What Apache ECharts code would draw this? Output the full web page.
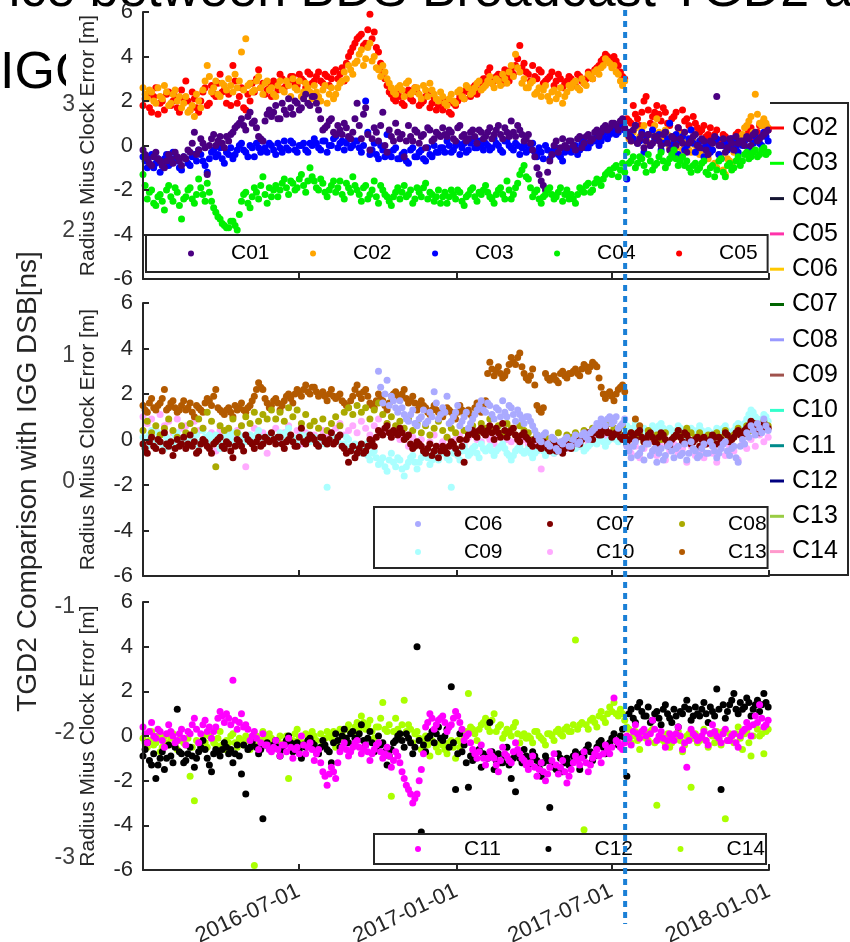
<!DOCTYPE html>
<html><head><meta charset="utf-8">
<script src="https://cdn.jsdelivr.net/npm/echarts@6/dist/echarts.min.js"></script>
<style>html,body{margin:0;padding:0;background:#fff}#c{width:850px;height:942px}</style>
</head><body><div id="c"></div>
<script>
// ---------- data ----------
const startDate = '2016-01-01';   // date of the first sample of every series
const stepDays = 5;               // spacing between samples of one array
const midOffsetDays = 2.5;        // the "...m" arrays are read half a step later
const xMin = '2016-01-01', xMax = '2018-01-01';
const xTickLabels = ['2016-07-01','2017-01-01','2017-07-01','2018-01-01'];
const markerDate = '2017-07-17';
const titleLine1 = 'Difference between BDS Broadcast TGD2 and';
const titleLine2 = 'IGG DSB';

// background (TGD2) figure: legend names and colours
const bgNames = ['C02','C03','C04','C05','C06','C07','C08','C09','C10','C11','C12','C13','C14'];
const bgColors = ['#FF0000','#00FF00','#141432','#FF33AA','#FFC800','#006400','#9999FF','#A0524D','#33FFCC','#008B8B','#000080','#99CC44','#FF99CC'];

// subplot 1
const C01 = [-0.2,-0.6,-0.9,-0.3,-0.7,-1.0,-0.4,-0.8,-0.5,-0.9, -0.6,-0.3,0.6,-0.2,0.1,-1.3,0.3,0.0,0.4,-0.1, 0.2,0.6,0.9,1.2,0.7,1.5,1.1,0.4,0.2,1.4, 1.3,1.8,1.2,1.6,2.1,1.4,1.9,1.7,2.3,1.8, 2.2,1.6,0.7,0.9,1.2,0.5,0.7,1.0,0.4,0.6, 1.9,0.3,1.7,-0.2,0.8,0.2,1.5,-0.3,0.4,1.0, 0.3,-0.5,0.9,0.2,0.6,0.4,-0.1,0.7,0.3,0.5, 0.8,0.4,0.6,0.2,0.9,0.5,0.3,0.7,0.1,0.6, 0.4,0.8,0.5,0.9,0.3,0.6,1.1,0.4,0.7,0.2, 0.5,-0.2,-1.0,-1.6,-2.0,-0.7,0.0,-0.3,0.3,-0.1, 0.2,-0.2,0.4,0.1,0.5,0.3,0.7,0.6,0.9,0.8, 1.0,0.7,1.2,0.6,0.2,0.9,0.3,-0.1,0.5,0.1, 0.4,0.0,0.6,-0.2,0.3,0.8,0.1,-0.3,0.2,0.5, -0.1,0.2,-0.4,0.1,2.2,0.0,-0.3,0.3,-0.2,0.1, 0.2,0.4,0.0,0.6,0.3,0.5,0.7];
const C01m = [-0.4,-0.8,-0.5,-0.6,-0.9,-0.7,-0.6,-0.3,-0.7,-0.5, -0.2,0.1,-0.4,0.3,-0.1,0.0,0.5,0.2,0.1,0.4, 0.5,0.8,1.0,0.9,1.3,1.0,0.8,0.3,1.1,1.6, 1.5,1.2,1.9,1.4,1.7,2.0,1.6,2.1,1.9,2.2, 1.9,1.2,0.8,1.1,0.6,0.9,0.5,0.8,0.3,1.2, 0.9,1.4,0.5,0.3,0.6,0.9,0.0,0.7,0.2,0.6, 0.5,0.2,0.4,0.7,0.1,0.5,0.8,0.2,0.6,0.4, 0.5,0.7,0.3,0.8,0.4,0.2,0.6,0.4,0.7,0.3, 0.6,0.3,0.7,0.5,0.8,0.4,0.6,0.9,0.5,0.3, 0.1,-0.5,-1.3,-1.8,-1.2,-0.4,0.2,-0.1,0.0,0.2, 0.0,0.3,-0.1,0.4,0.2,0.6,0.4,0.8,0.7,1.0, 0.9,1.1,0.8,0.4,0.7,0.1,0.5,0.2,0.0,0.4, 0.2,0.5,0.1,0.4,0.0,0.3,0.6,0.1,0.4,0.0, 0.3,-0.2,0.2,0.4,0.0,0.3,-0.1,0.1,0.4,0.2, 0.0,0.3,0.5,0.2,0.4,0.6];
const C02 = [2.6,2.1,2.4,1.9,2.2,2.7,1.8,2.3,2.0,1.7, 2.2,1.6,1.3,2.0,2.5,3.6,2.4,2.9,2.2,2.7, 3.0,2.4,2.6,4.2,4.8,2.8,2.5,3.1,2.3,2.9, 2.6,2.2,2.9,2.4,2.7,3.0,2.5,2.2,2.8,2.4, 2.7,2.2,2.5,1.9,2.6,2.3,2.8,3.3,3.6,3.2, 3.8,4.3,3.9,4.6,4.0,3.4,3.6,3.0,2.6,2.3, 2.7,2.2,2.9,2.4,2.6,2.1,2.5,2.8,2.3,2.0, 2.2,1.8,2.3,1.9,2.5,2.1,2.6,2.4,2.8,2.5, 2.7,3.1,2.6,2.9,3.2,2.8,3.6,4.1,3.3,3.0, 2.6,2.9,2.4,2.2,2.7,2.0,2.5,2.3,1.9,2.4, 2.6,2.9,2.5,2.8,3.2,3.0,3.4,3.5,3.9,3.7, 3.6,3.2,2.7,0.5,0.2,0.8,0.4,0.9,0.1,0.6, 1.2,0.3,0.7,-0.1,0.4,0.2,-0.2,0.3,-0.3,0.0, -0.4,0.1,-0.6,-0.2,-1.0,-0.5,-1.3,-0.7,-0.3,0.0, 0.5,0.9,1.3,2.3,1.0,1.2,0.8];
const C02m = [2.3,2.5,2.0,2.6,2.1,2.4,1.9,2.5,2.2,1.9, 1.5,1.8,2.3,1.7,2.9,3.1,2.6,2.3,2.8,2.5, 2.7,3.2,2.9,2.5,2.7,2.4,2.9,2.6,2.8,2.5, 2.3,2.7,2.5,2.9,2.2,2.6,2.9,2.4,2.6,2.1, 2.4,2.0,2.7,2.3,2.1,2.6,2.9,3.0,3.4,3.7, 4.1,3.6,4.4,3.8,3.5,3.1,3.3,2.8,2.4,2.6, 2.5,2.8,2.3,2.6,2.3,2.7,2.2,2.5,2.1,2.4, 1.9,2.1,2.0,2.4,2.2,2.7,2.3,2.6,2.9,2.6, 2.9,2.8,3.0,2.7,3.0,3.3,3.1,3.5,2.8,2.6, 2.8,2.3,2.6,2.5,2.2,2.4,2.1,2.6,2.2,2.7, 2.8,2.6,3.0,2.7,3.1,3.3,3.2,3.6,3.8,3.5, 3.3,2.9,2.9,0.3,0.6,0.1,0.7,0.3,0.5,0.9, 0.6,0.1,0.5,0.2,-0.1,0.5,0.0,-0.2,0.2,-0.1, -0.2,-0.4,-0.1,-0.8,-0.4,-1.1,-0.6,-0.9,0.2,0.3, 0.8,1.1,0.6,1.4,0.9,1.0];
const C03 = [-0.5,-1.0,-0.4,-0.8,-1.2,-0.6,-0.9,-0.3,-0.7,-1.1, -0.6,-0.9,-0.4,-0.2,-0.7,-1.2,-0.3,-0.5,-0.1,-0.8, -0.4,-0.6,-0.2,0.1,-0.3,0.0,-0.5,-0.1,0.2,-0.3, 0.0,-0.4,-0.1,0.2,-0.2,0.1,-0.3,0.0,-0.2,0.1, 0.3,-0.1,0.2,-0.3,0.0,0.4,0.1,-0.2,0.3,0.0, 0.2,-0.3,2.0,-0.4,0.1,-0.6,-0.2,0.5,-0.5,-0.1, -0.6,-0.3,-0.8,-0.1,-0.5,-0.2,-0.7,-0.4,0.0,-0.3, -0.1,0.2,-0.3,0.0,-0.4,0.1,-0.2,0.3,-0.1,0.0, 0.1,-0.2,0.3,0.0,-0.3,0.2,-0.1,0.1,-0.4,0.0, -0.2,0.1,-0.5,-0.3,0.0,-0.6,-0.2,-0.4,-0.7,-0.1, -0.3,0.0,-0.2,0.2,-0.1,0.3,0.4,0.2,0.6,0.5, 0.8,0.6,1.0,-1.5,0.4,0.9,0.2,-0.3,0.5,0.7, 0.3,-0.2,0.6,1.0,0.1,-0.4,0.4,0.0,0.7,-0.3, 0.2,-0.5,0.0,-0.2,0.3,-0.6,0.1,-0.1,0.2,-0.3, 0.0,0.3,-0.2,0.4,0.1,0.6,0.2];
const C03m = [-0.7,-0.5,-1.0,-0.6,-0.9,-0.4,-0.8,-0.6,-1.0,-0.5, -0.8,-0.5,-0.7,-0.4,-0.9,-0.6,-0.2,-0.4,-0.6,-0.3, -0.1,-0.4,0.0,-0.2,-0.5,-0.1,0.1,-0.3,-0.1,0.1, -0.2,0.1,-0.3,-0.1,0.2,-0.2,0.0,0.1,-0.3,0.0, 0.1,-0.2,0.2,0.0,0.3,-0.1,0.2,0.1,-0.1,0.2, -0.1,0.0,0.6,-0.2,-0.4,0.0,-0.5,-0.3,-0.2,-0.6, -0.4,-0.7,-0.2,-0.5,-0.3,-0.6,-0.1,-0.5,-0.3,-0.1, -0.3,0.0,-0.2,0.1,-0.1,-0.3,0.1,-0.1,0.2,-0.2, 0.0,-0.1,0.1,-0.2,0.2,0.0,-0.2,0.0,-0.1,-0.3, 0.0,-0.3,-0.1,-0.6,-0.2,-0.4,-0.1,-0.5,-0.3,-0.2, -0.1,-0.4,0.1,-0.1,0.1,0.2,0.0,0.4,0.3,0.7, 0.5,0.9,0.7,0.6,0.3,0.1,0.6,0.4,0.0,0.3, 0.5,0.1,0.3,-0.1,0.5,0.2,-0.2,0.3,0.1,0.0, -0.1,0.1,-0.3,0.2,-0.4,0.0,-0.2,0.3,-0.1,0.1, 0.2,-0.1,0.1,0.3,0.0,0.4];
const C04 = [-1.3,-2.4,-2.0,-2.7,-2.2,-2.9,-1.8,-2.5,-2.1,-3.3, -2.3,-1.9,-2.6,-1.5,-2.2,-1.7,-2.5,-3.0,-3.3,-3.6, -3.7,-3.4,-3.8,-2.5,-2.1,-2.8,-1.9,-2.4,-1.4,-2.6, -2.3,-1.8,-2.0,-1.5,-2.2,-1.7,-1.9,-1.3,-2.1,-1.0, -1.6,-2.0,-1.7,-2.3,-1.8,-2.1,-1.6,-2.4,-1.9,-1.4, -2.0,-2.5,-1.8,-2.2,-1.6,-2.6,-2.0,-2.3,-2.7,-2.1, -2.4,-1.8,-2.2,-2.6,-1.9,-2.3,-1.7,-2.1,-2.5,-2.0, -2.3,-2.6,-2.0,-2.4,-2.1,-2.7,-2.2,-1.9,-2.5,-2.2, -1.8,-2.3,-2.6,-2.0,-2.2,-1.6,-2.4,-1.9,-1.3,-0.9, -1.5,-2.3,-2.0,-2.6,-2.2,-1.9,-2.4,-2.1,-2.5,-2.0, -2.2,-2.6,-1.9,-2.1,-1.7,-2.0,-1.5,-1.8,-1.3,-1.1, -1.0,-1.4,-0.8,-0.3,-0.7,-1.0,-0.5,-0.9,-0.4,-1.1, -0.8,-0.3,-1.0,-0.6,-0.2,-0.9,-0.5,-0.7,-1.2,-0.8, -1.0,-0.7,-1.3,-0.9,-1.1,-0.6,-1.4,-0.8,-1.0,-0.5, -0.7,-0.3,-0.5,-0.2,-0.4,-0.1,-0.3];
const C04m = [-1.8,-2.1,-2.6,-2.3,-2.5,-2.0,-2.3,-1.9,-2.7,-2.4, -2.0,-2.4,-2.2,-1.9,-2.5,-2.1,-2.8,-3.2,-3.5,-3.7, -3.4,-3.6,-3.1,-2.2,-2.6,-2.3,-2.1,-1.8,-2.2,-1.9, -2.0,-2.3,-1.7,-1.9,-1.6,-2.0,-1.5,-1.8,-1.6,-1.4, -1.9,-1.5,-2.1,-2.0,-1.6,-1.9,-2.2,-1.7,-2.1,-1.8, -2.2,-1.9,-2.4,-2.0,-2.3,-1.8,-2.2,-2.5,-2.3,-1.9, -2.1,-2.3,-2.0,-2.4,-2.1,-1.9,-2.4,-2.2,-2.3,-2.6, -2.1,-2.3,-2.2,-2.0,-2.5,-2.3,-2.0,-2.3,-2.1,-2.0, -2.1,-2.4,-2.2,-1.9,-2.4,-2.0,-2.2,-1.7,-1.1,-1.4, -1.9,-2.1,-2.4,-2.3,-2.0,-2.2,-2.3,-1.9,-2.2,-2.4, -2.4,-2.2,-2.0,-1.8,-2.1,-1.7,-1.6,-1.5,-1.2,-1.3, -0.9,-1.1,-1.2,-0.8,-0.5,-0.8,-0.6,-1.2,-0.7,-0.9, -0.5,-0.7,-0.8,-0.4,-0.6,-0.7,-0.9,-1.0,-0.9,-1.1, -0.8,-1.2,-1.0,-1.4,-0.7,-1.2,-0.9,-1.1,-0.7,-0.9, -0.4,-0.6,-0.3,-0.5,-0.2,-0.4];
const C05 = [1.8,2.3,1.5,2.6,1.9,1.6,2.4,2.0,1.7,2.5, 2.9,1.6,2.1,1.5,2.4,1.8,2.7,2.2,3.2,2.5, 2.3,3.6,1.9,2.6,1.6,2.0,2.4,3.4,2.8,2.5, 2.2,2.8,3.2,2.6,2.9,3.1,2.7,3.0,2.6,3.2, 2.9,3.3,2.8,3.1,3.0,3.4,3.2,2.9,4.0,4.4, 4.8,5.0,4.6,5.9,5.1,4.2,3.3,2.7,2.3,2.0, 2.2,1.8,2.5,2.0,2.4,1.9,2.2,1.7,2.1,1.8, 1.6,2.0,1.4,1.8,2.2,2.1,2.4,2.6,2.3,2.8, 3.0,3.5,2.9,3.2,2.8,3.1,3.4,3.6,4.5,3.7, 3.2,3.6,3.0,3.3,2.9,3.1,2.7,3.2,2.6,2.9, 3.0,2.7,3.1,2.8,3.3,3.0,3.5,3.8,4.1,3.9, 4.0,3.6,3.1,1.2,1.0,1.4,0.9,2.0,1.6,1.3, 1.8,1.1,1.5,0.9,1.3,0.8,1.6,1.2,0.7,1.0, 0.6,0.9,0.5,0.3,0.7,0.2,0.4,0.0,0.3,0.6, 0.2,0.5,0.8,0.4,0.9,1.1,0.7];
const C05m = [2.1,1.7,2.2,1.4,2.0,2.3,1.8,2.2,1.5,2.1, 2.0,2.4,1.7,2.0,2.6,1.9,2.3,2.8,2.4,1.9, 1.8,2.9,2.2,1.7,2.3,2.8,3.0,2.6,2.3,2.7, 2.9,2.5,3.0,2.7,3.1,2.8,3.2,2.9,3.3,2.8, 3.1,2.9,3.2,2.7,3.3,3.0,3.5,3.7,4.2,4.6, 4.9,4.5,5.2,4.8,4.4,3.7,3.0,2.4,2.1,2.5, 1.9,2.3,2.1,2.6,1.8,2.0,2.4,1.9,1.6,2.0, 1.8,1.5,1.9,2.0,2.3,2.5,2.2,2.7,2.5,3.0, 3.3,2.8,3.1,3.0,3.4,2.9,3.2,3.9,3.5,3.3, 2.9,3.1,3.4,2.8,3.0,3.3,2.9,3.0,2.8,3.1, 2.8,3.2,2.9,3.0,3.2,3.4,3.6,3.9,4.0,3.7, 3.8,3.3,3.0,1.1,1.8,1.2,1.5,2.2,1.0,1.5, 1.4,1.7,1.0,1.2,1.5,0.6,1.1,0.9,1.3,0.8, 0.7,0.4,0.8,0.5,0.1,0.5,0.2,0.3,0.5,0.1, 0.4,0.7,0.3,0.6,1.0,0.9];

// subplot 2
const C06 = [null,null,null,null,null,null,null,null,null,null, null,null,null,null,null,null,null,null,null,null, null,null,null,null,null,null,null,null,null,null, null,null,null,null,null,null,null,null,null,null, null,null,null,null,null,null,null,null,null,null, null,null,null,null,null,3.0,1.6,2.6,1.9,1.4, 1.7,1.1,0.8,1.3,0.6,1.0,0.7,1.2,2.1,0.9, 1.4,1.9,0.8,1.2,0.6,1.0,0.5,0.9,1.3,1.7, 1.2,1.5,0.9,1.3,1.7,1.0,1.4,0.8,1.1,0.7, 1.0,0.6,0.2,-0.1,0.3,-0.3,0.0,-0.5,-0.2,0.1, -0.3,0.2,-0.1,0.3,0.0,0.4,0.7,0.9,0.6,1.0, 0.8,0.5,0.7,-0.3,-0.8,-0.1,-0.6,-0.9,-0.2,-0.5, -1.0,-0.4,-0.7,-0.2,-0.8,-0.3,-0.6,-0.9,-0.1,-0.5, -0.7,-0.2,-0.6,-0.3,-0.8,-0.4,-0.1,-0.7,-0.3,-1.0, 0.0,0.3,0.6,0.2,0.5,0.9,0.4];
const C06m = [null,null,null,null,null,null,null,null,null,null, null,null,null,null,null,null,null,null,null,null, null,null,null,null,null,null,null,null,null,null, null,null,null,null,null,null,null,null,null,null, null,null,null,null,null,null,null,null,null,null, null,null,null,null,null,2.3,2.0,1.5,1.7,1.2, 1.4,0.9,1.1,0.7,0.9,1.3,0.8,1.0,1.6,1.1, 1.2,0.7,1.0,1.5,0.8,1.2,0.7,1.1,1.5,1.3, 1.6,1.1,1.4,1.0,1.2,1.5,1.1,1.3,0.9,1.0, 0.8,0.4,0.0,0.2,-0.2,0.1,-0.4,-0.1,0.0,-0.3, 0.0,-0.2,0.2,0.1,0.3,0.5,0.6,0.8,0.9,0.7, 1.0,0.6,0.9,-0.5,-0.3,-0.7,-0.4,-0.2,-0.7,-0.4, -0.6,-0.9,-0.3,-0.5,-0.4,-0.7,-0.2,-0.6,-0.4,-0.8, -0.4,-0.6,-0.1,-0.5,-0.6,-0.2,-0.5,-0.4,-0.8,-0.3, -0.2,0.1,0.4,0.7,0.3,0.6];
const C07 = [-0.2,-0.6,0.1,-0.4,-0.1,0.3,-0.3,-0.7,0.0,-0.2, -0.4,0.2,-0.1,-0.5,0.0,-0.3,-0.6,-0.1,0.1,-0.4, -0.2,-0.8,0.0,-0.3,0.2,-0.1,-0.4,0.1,-0.2,0.0, 0.3,-0.2,0.1,-0.4,0.0,-0.1,-0.3,0.5,-0.2,0.2, 0.0,-0.3,0.1,-0.2,0.3,-0.1,0.2,-0.4,-1.0,-0.3, -0.6,-0.2,-0.5,0.0,-0.3,0.4,0.2,0.6,0.1,0.3, 0.5,0.0,0.2,-0.4,-0.1,-0.3,-0.6,-0.2,-0.5,-0.8, -0.3,-0.6,-0.1,-0.4,0.0,-1.0,0.2,0.4,0.1,0.5, 0.2,0.6,0.0,0.3,0.7,0.1,0.4,0.2,-0.1,0.3, 0.0,-0.3,0.1,-0.4,-0.2,-0.5,-0.1,-0.3,-0.6,-0.2, -0.4,0.0,-0.2,0.1,0.3,0.0,0.4,0.2,0.5,0.3, 0.2,0.4,0.0,-0.2,0.3,0.0,0.4,-0.1,0.2,0.1, -0.2,0.3,0.0,-0.3,0.1,0.4,-0.1,0.2,-0.2,0.0, -0.3,0.1,-0.1,0.2,-0.2,0.0,0.3,-0.1,0.1,0.4, 0.2,0.5,0.8,0.6,0.3,0.7,0.5];
const C07m = [-0.4,-0.1,-0.3,0.0,-0.5,-0.2,-0.1,-0.4,-0.3,0.1, -0.2,-0.3,-0.6,-0.2,-0.1,-0.4,-0.2,0.0,-0.3,-0.1, -0.5,-0.3,-0.1,-0.5,0.0,-0.2,-0.1,-0.3,0.1,-0.1, 0.0,0.1,-0.2,-0.1,0.2,-0.3,0.1,-0.1,0.0,0.1, -0.2,0.1,-0.1,0.0,-0.2,0.1,-0.3,-0.6,-0.5,-0.8, -0.4,-0.6,-0.3,-0.1,0.1,0.3,0.5,0.3,0.4,0.2, 0.3,0.1,-0.2,-0.3,-0.2,-0.5,-0.4,-0.7,-0.3,-0.5, -0.5,-0.3,-0.2,-0.6,-0.3,0.0,0.3,0.2,0.4,0.3, 0.4,0.3,0.5,0.1,0.4,0.3,0.5,0.0,0.2,0.1, -0.2,0.0,-0.3,-0.1,-0.4,-0.3,-0.5,-0.2,-0.4,-0.3, -0.2,-0.1,0.0,0.2,0.1,0.3,0.2,0.4,0.3,0.1, 0.3,0.1,0.2,0.0,0.2,0.3,0.1,0.0,0.3,-0.1, 0.1,0.2,-0.2,0.0,0.2,0.1,0.3,0.0,-0.1,0.1, 0.0,-0.2,0.0,0.1,0.1,-0.1,0.2,0.0,0.3,0.2, 0.4,0.6,0.7,0.4,0.5,0.6];
const C08 = [0.4,0.8,0.3,0.6,0.2,0.5,0.9,0.4,0.1,0.6, 0.3,0.7,0.4,0.9,0.5,1.2,0.8,-1.2,0.6,0.4, 0.5,0.9,0.3,0.6,1.0,0.7,1.2,0.8,1.1,0.9, 1.3,0.9,1.2,0.8,1.4,1.0,1.3,0.7,1.1,0.6, 0.8,0.5,0.9,0.4,0.7,1.0,0.6,1.2,1.4,1.1, 1.5,1.2,1.4,0.9,1.3,1.6,1.1,0.7,1.0,0.6, 0.8,0.5,0.9,0.4,0.7,0.3,0.6,0.2,0.5,0.8, 0.4,0.1,0.5,0.3,0.0,0.4,0.2,0.6,0.3,0.7, 0.5,0.9,0.4,0.6,0.3,0.7,0.5,0.2,0.6,0.4, 0.3,0.0,0.2,-0.1,0.1,-0.2,0.0,0.3,-0.1,0.2, 0.1,0.3,0.0,0.4,0.2,0.5,0.3,0.6,0.4,0.7, 0.5,0.3,0.6,0.1,0.3,0.0,0.2,-0.1,0.4,0.1, 0.2,0.0,0.3,-0.2,0.1,0.4,0.2,0.5,0.3,0.1, 0.3,0.0,0.2,-0.1,0.3,0.1,0.4,0.0,0.2,0.5, 0.3,0.6,0.4,0.7,0.5,0.8,0.6];
const C09 = [0.1,-0.3,0.4,-0.1,0.2,-0.4,0.0,-0.2,0.3,-0.1, 0.2,-0.2,0.1,-0.3,0.4,0.0,-0.1,0.2,-0.4,0.1, 0.0,0.3,-0.2,0.1,-0.1,0.2,0.0,0.4,-0.2,0.1, 0.2,-0.1,0.3,0.0,0.5,0.1,-0.2,0.2,0.0,-0.1, 0.1,-0.3,0.0,-2.1,-0.1,0.1,0.2,-0.2,0.0,-0.4, -0.3,-0.6,-0.2,-0.9,-0.5,-1.1,-0.8,-1.4,-0.6,-1.2, -0.9,-1.6,-1.0,-0.7,-1.3,-0.8,-0.5,-1.1,-0.6,-0.9, -0.4,-0.8,-2.1,-0.5,-0.9,-0.3,-0.7,-0.4,-0.6,-0.2, -0.5,-0.3,-0.7,-0.4,-0.2,-0.6,-0.9,-0.5,-0.3,-0.6, -0.4,-0.8,-0.5,-0.3,-0.7,-0.4,-0.6,-0.2,-0.5,-0.3, -0.1,-0.4,-0.2,-0.5,-0.3,0.0,-0.2,0.1,-0.3,0.0, 0.2,-0.1,0.3,0.6,0.3,0.7,0.4,0.5,0.2,0.6, 0.4,0.7,0.3,0.5,0.2,0.6,0.4,0.1,0.5,0.3, 0.6,0.2,0.4,0.1,0.5,0.3,0.6,0.2,0.4,0.7, 0.5,0.9,1.3,1.0,0.7,1.1,0.8];
const C09m = [-0.1,0.2,0.0,0.3,-0.2,0.1,-0.3,0.2,0.0,0.1, -0.1,0.0,0.2,-0.1,0.1,0.2,0.0,-0.2,0.0,0.2, 0.1,-0.1,0.2,0.0,0.1,-0.2,0.2,0.1,0.0,0.2, 0.0,0.1,0.2,0.3,0.0,-0.1,0.1,0.0,0.2,0.0, -0.1,0.1,-0.2,0.0,0.0,-0.1,-0.2,0.1,-0.3,-0.2, -0.5,-0.4,-0.7,-0.6,-0.8,-1.0,-1.2,-0.9,-1.0,-0.8, -1.3,-1.2,-0.8,-1.0,-1.0,-0.6,-0.8,-0.9,-0.7,-0.6, -0.6,-0.9,-0.6,-0.7,-0.5,-0.5,-0.6,-0.3,-0.8,-0.4, -0.4,-0.5,-0.5,-0.3,-0.4,-0.7,-0.7,-0.4,-0.5,-0.5, -0.6,-0.6,-0.4,-0.5,-0.5,-0.5,-0.4,-0.4,-0.4,-0.2, -0.3,-0.3,-0.3,-0.4,-0.2,-0.1,0.0,-0.1,-0.1,0.1, 0.0,0.1,0.2,0.5,0.5,0.6,0.3,0.4,0.4,0.5, 0.6,0.5,0.4,0.4,0.4,0.5,0.3,0.3,0.4,0.4, 0.4,0.3,0.3,0.3,0.4,0.5,0.4,0.3,0.6,0.6, 0.7,1.1,1.2,0.9,0.9,1.0];
const C10 = [1.0,0.7,0.9,0.4,1.1,0.6,0.8,0.3,0.9,0.5, 0.6,0.2,0.8,0.4,0.5,0.1,0.3,-0.5,0.4,0.2, 0.3,0.0,0.4,0.6,-1.2,0.2,0.5,0.1,0.3,-0.6, 0.2,0.5,0.0,0.3,0.6,0.1,0.4,-0.2,0.3,0.0, 0.2,-0.1,0.4,0.1,0.3,0.5,0.7,0.2,0.4,0.6, 0.3,0.8,0.5,0.2,0.6,0.9,0.4,0.7,0.1,0.3, 0.0,0.2,-0.3,0.1,-0.2,0.0,-0.4,-0.1,0.2,-0.3, -0.1,0.1,-0.3,0.0,0.2,-0.2,0.1,-0.4,0.0,-0.1, 0.2,0.0,-0.2,0.1,-0.3,0.0,-0.1,0.2,-0.2,0.0, -0.2,-0.5,-0.3,-1.3,-0.4,-0.1,-0.6,-0.3,-0.2,-0.4, -0.1,0.0,-0.3,0.1,-0.2,0.2,0.0,0.3,0.1,0.2, 0.4,0.1,0.3,-0.2,-0.6,-0.3,-0.8,-0.4,-0.1,-0.5, -0.7,-0.3,-0.9,-0.5,-0.2,-0.6,-0.4,-1.0,-0.3,-0.7, -0.5,-0.8,-0.2,-0.6,-1.0,-0.4,-0.7,-0.3,-0.5,-0.9, -0.2,-0.4,0.0,-0.3,0.2,-0.1,0.1];
const C13 = [1.5,1.2,1.8,1.3,1.6,2.2,1.4,1.7,1.2,1.5, 1.3,1.6,1.0,1.4,1.2,1.8,1.5,2.2,1.3,1.1, 1.4,1.0,1.3,1.6,1.2,1.5,1.9,2.5,2.2,1.6, 1.5,1.8,1.3,1.7,2.0,1.6,2.2,1.9,2.4,2.0, 2.3,1.9,2.1,1.7,2.2,1.8,2.0,1.6,1.4,1.9, 2.4,1.8,2.2,1.6,1.4,2.0,1.7,1.3,1.9,2.1, 1.8,2.2,1.6,1.9,1.3,1.7,1.4,1.1,1.5,1.2, 1.0,1.4,1.2,0.9,1.5,1.1,1.3,1.0,1.6,1.2, 1.7,3.4,2.8,3.2,2.7,3.0,3.6,3.3,3.8,2.9, 2.6,3.1,1.5,1.2,2.9,2.6,2.8,2.5,3.0,2.7, 2.9,3.1,2.8,3.3,3.0,3.4,3.2,2.3,1.8,2.1, 1.7,2.2,2.4,null,null,0.9,0.6];
const C13m = [1.3,1.6,1.4,1.5,1.8,1.3,1.6,1.4,1.3,1.7, 1.4,1.2,1.5,1.3,1.6,1.7,1.9,1.4,1.2,1.3, 1.2,1.5,1.4,1.3,1.4,1.7,2.2,2.3,1.8,1.4, 1.7,1.6,1.5,1.9,1.8,2.0,2.1,2.2,2.1,2.3, 2.1,2.0,1.9,2.0,1.9,1.9,1.7,1.5,1.7,2.2, 2.0,2.1,1.9,1.5,1.7,1.8,1.5,1.6,2.0,1.9, 2.0,1.8,1.7,1.6,1.5,1.5,1.2,1.3,1.3,1.1, 1.2,1.3,1.0,1.2,1.3,1.2,1.1,1.4,1.4,1.5, 2.9,3.1,3.0,2.9,2.8,3.3,3.4,3.6,3.2,2.7, 2.8,2.4,1.3,1.4,2.7,2.7,2.6,2.9,2.8,2.9, 3.0,2.9,3.1,3.2,3.2,3.3,2.7,2.0,2.0,1.9, 2.0,2.3,2.1];

// subplot 3
const C11 = [0.4,-0.3,0.6,-0.1,0.2,-0.5,0.5,0.0,-0.2,0.3, -0.4,0.1,0.8,-0.3,0.5,0.2,-0.1,0.4,1.1,0.6, 0.8,2.5,0.3,1.0,0.5,-0.2,0.2,-0.6,0.1,-0.4, -0.7,-0.2,-0.9,-0.4,-0.1,-1.0,-0.5,0.0,-0.8,-0.3, -1.1,-0.6,-1.6,-2.2,-1.4,-1.9,-0.7,-0.3,-0.9,-0.5, -0.2,-0.8,-0.4,-1.1,-0.6,-0.3,-1.0,-0.5,-1.4,-0.7, -1.2,-1.9,-2.4,-3.0,-2.6,-1.5,0.4,1.0,0.3,0.7, 0.9,0.2,0.5,1.1,0.6,-0.2,0.1,-0.6,-1.0,-0.4, -1.3,-0.7,-1.0,-1.6,-0.5,-0.9,-1.2,-0.3,-0.8,-1.1, -1.5,-0.9,-1.8,-1.2,-2.0,-1.4,-0.8,-1.7,-1.1,-2.1, -1.5,-0.9,-1.3,-0.7,-1.6,-1.0,-0.6,-1.2,-0.4,-0.8, 1.7,-0.3,-0.6,0.0,-0.4,0.5,-0.1,0.3,-0.3,0.7, -0.2,0.2,-0.5,0.1,-0.2,0.4,-0.6,-1.4,0.3,0.0, -0.1,0.2,-0.4,0.5,0.0,-0.3,0.3,-0.2,0.1,-0.5, 0.2,0.6,0.0,0.9,1.4,0.4,0.7];
const C11m = [0.1,0.2,0.0,0.3,-0.2,0.1,0.2,-0.3,0.1,-0.1, 0.2,0.5,0.3,0.1,0.7,0.4,0.2,0.8,0.9,1.0, 0.5,0.7,0.6,0.4,0.3,0.0,-0.1,-0.3,-0.4,-0.6, -0.5,-0.6,-0.4,-0.7,-0.5,-0.6,-0.8,-0.4,-0.5,-0.6, -0.8,-1.2,-1.8,-1.7,-1.6,-1.2,-0.5,-0.6,-0.7,-0.3, -0.5,-0.6,-0.7,-0.8,-0.4,-0.7,-0.8,-0.9,-1.1,-0.9, -1.6,-2.2,-2.6,-2.8,-2.0,-0.8,0.6,0.8,0.5,0.8, 0.6,0.4,0.8,0.9,0.3,0.0,-0.3,-0.8,-0.7,-1.0, -1.0,-0.9,-1.3,-1.1,-0.8,-1.1,-0.7,-0.6,-1.0,-1.3, -1.2,-1.4,-1.5,-1.6,-1.7,-1.1,-1.3,-1.4,-1.6,-1.8, -1.2,-1.1,-1.0,-1.2,-1.3,-0.8,-0.9,-0.8,-0.6,-0.5, -0.2,-0.5,-0.3,-0.1,0.2,0.1,0.2,0.0,0.1,0.3, 0.0,-0.1,-0.2,-0.1,0.1,0.0,-0.3,-0.2,0.1,-0.2, 0.0,-0.2,0.1,0.2,-0.1,0.1,-0.2,0.0,-0.3,0.0, 0.3,0.4,0.5,0.6,0.8,0.5];
const C12 = [-0.9,-0.3,-1.3,-1.9,-1.0,-1.5,-0.4,-1.2,1.2,-0.8, -1.1,-0.5,-1.4,-0.7,-0.2,-1.0,-1.6,-0.6,-0.9,-0.3, -0.8,-1.2,-0.4,-1.7,-2.6,-0.5,-0.1,-0.8,-3.7,-0.3, -0.6,-0.2,-0.9,-0.4,0.0,-0.7,-0.3,-1.0,-0.5,-0.1, -0.4,-0.8,-0.2,-0.6,-1.2,0.1,-0.5,0.3,-0.3,0.2, -0.1,0.5,-0.4,0.2,-0.7,0.0,-0.3,-1.3,-0.6,-0.2, 0.1,-0.5,-0.1,-0.8,4.0,-4.3,-0.7,0.0,-0.3,0.4, -0.2,0.3,2.2,-2.4,0.1,-0.4,-2.3,-1.1,-0.7,-1.4, -0.9,0.6,-1.5,-0.8,-1.2,-0.5,-1.9,-2.5,-1.0,-0.6, -1.3,-0.7,-1.1,-1.8,-0.9,-3.2,-1.4,-0.8,-1.6,-1.0, -1.2,-0.7,-1.5,-0.9,-0.4,-1.1,-0.5,-0.2,-0.8,-0.3, 0.1,-0.4,0.3,-1.8,1.2,0.6,1.5,0.9,1.3,0.7, 1.1,0.5,1.4,0.8,1.2,0.4,1.0,1.6,0.7,1.3, 0.9,1.5,0.6,1.1,2.1,-2.4,0.8,1.4,1.9,1.0, 1.2,1.7,0.9,1.4,1.1,1.9,1.3];
const C12m = [-0.6,-1.1,-0.8,-1.3,-0.7,-1.0,-0.9,-0.5,-0.7,-1.2, -0.8,-0.9,-1.0,-0.5,-0.6,-1.3,-0.8,-0.7,-0.6,-0.5, -0.6,-0.8,-0.9,-0.4,-0.6,-0.3,-0.5,-0.6,-0.4,-0.5, -0.4,-0.5,-0.6,-0.2,-0.3,-0.5,-0.6,-0.4,-0.2,-0.3, -0.6,-0.5,-0.4,-0.7,-0.3,-0.2,0.0,-0.1,0.1,-0.1, 0.1,-0.2,-0.1,-0.3,-0.5,-0.4,-0.7,-0.9,-0.3,0.0, -0.2,0.1,-0.3,-0.5,-0.2,-0.4,-0.1,0.2,0.1,-0.1, 0.0,-0.5,-0.3,-0.8,-0.7,-1.2,-0.9,-1.0,-0.6,-0.8, -1.0,-0.7,-1.1,-1.2,-0.9,-1.3,-1.0,-0.8,-1.2,-0.9, -1.0,-0.9,-1.4,-1.2,-1.1,-1.3,-1.5,-1.0,-1.2,-1.3, -0.9,-1.0,-0.8,-0.6,-0.7,-0.9,-0.3,-0.5,-0.4,-0.1, -0.2,0.0,-0.1,1.0,0.8,1.3,1.1,0.9,0.6,1.0, 0.8,1.2,1.0,0.6,0.9,1.1,1.3,1.2,0.9,1.0, 1.2,1.0,1.3,0.9,1.2,1.4,1.1,1.6,1.2,1.5, 1.3,1.5,1.2,1.6,1.4,1.5];
const C14 = [-0.1,-0.5,0.2,-0.3,-0.7,0.0,-0.4,0.1,-0.6,-0.2, -0.4,-1.8,-2.9,-0.3,0.0,-0.5,-0.1,-0.4,0.2,-0.6, -0.3,0.1,-0.5,-0.2,0.0,-0.6,-5.8,-0.4,0.2,-0.3, -0.1,-0.5,0.0,-0.3,-1.9,-0.2,0.3,-0.4,0.1,-0.2, 0.0,-0.6,-0.3,0.2,-0.1,-0.5,0.3,-0.2,0.5,0.1, 0.6,0.9,0.3,0.7,-0.1,0.4,1.5,0.2,-2.7,0.8, 0.1,1.6,0.5,-0.3,0.2,-0.6,0.0,-0.9,-0.3,-0.7, -0.4,-0.8,-0.2,-1.0,-0.5,-0.1,1.9,0.3,-0.2,0.5, 0.8,0.2,1.0,0.4,-0.1,0.3,0.0,0.6,-0.3,0.1, 0.0,-0.3,0.2,-0.1,-0.4,0.1,-0.2,0.3,0.0,0.4, 0.2,4.3,0.5,-4.2,0.3,0.8,0.4,1.1,0.6,1.3, 1.5,0.9,1.0,0.4,-0.3,0.2,-0.6,0.1,-0.2,0.3, -3.1,0.0,-0.4,-0.5,-0.1,0.2,-0.7,0.0,-2.3,0.1, -0.2,0.3,-0.5,0.0,0.2,-0.4,-3.7,0.1,-0.3,0.4, -0.6,0.2,-0.9,0.5,0.0,-0.8,0.3];
const C14m = [-0.3,-0.2,-0.4,0.0,-0.5,-0.3,-0.1,-0.4,-0.2,-0.3, -0.1,-0.5,-0.2,-0.4,-0.3,0.0,-0.3,-0.1,-0.4,-0.2, 0.0,-0.3,-0.1,-0.4,-0.2,-0.3,0.0,-0.2,-0.1,0.1, -0.3,-0.2,-0.4,0.0,-0.2,0.1,-0.1,-0.3,0.0,0.2, -0.2,0.1,-0.1,0.0,0.2,-0.2,0.1,0.3,0.2,0.4, 0.3,0.6,0.5,0.2,0.4,0.8,0.3,0.5,0.2,0.3, 0.5,0.2,0.3,0.1,-0.1,-0.2,-0.4,-0.2,-0.5,-0.3, -0.6,-0.3,-0.5,-0.2,-0.3,0.2,0.4,0.1,0.3,0.6, 0.4,0.7,0.2,0.5,0.1,0.2,0.4,0.1,0.0,-0.1, -0.1,0.2,0.0,-0.2,0.1,0.0,0.2,0.1,0.3,0.2, 0.5,0.3,0.6,0.5,0.7,0.6,0.9,0.8,1.0,1.1, 1.0,1.2,0.7,0.3,0.0,-0.2,0.1,-0.1,0.2,-0.3, -0.1,-0.2,0.1,-0.3,0.0,-0.2,-0.4,0.1,-0.1,-0.3, 0.0,-0.2,0.1,-0.3,-0.1,0.2,-0.2,0.0,0.1,-0.1, 0.1,-0.3,0.0,0.3,0.1,0.2];

const fgColors = {C01:'#4B0082',C02:'#FFA500',C03:'#0000FF',C04:'#00F000',C05:'#FF0000',
  C06:'#AAAAFF',C07:'#800000',C08:'#AAAA00',C09:'#AAFFFF',C10:'#FFAAFF',C13:'#B35A00',
  C11:'#FF00FF',C12:'#000000',C14:'#AAFF00'};
const fgValues = {C01,C02,C03,C04,C05,C06,C07,C08,C09,C10,C13,C11,C12,C14};
const fgMidValues = {C01:C01m,C02:C02m,C03:C03m,C04:C04m,C05:C05m,C06:C06m,C07:C07m,C09:C09m,C13:C13m,C11:C11m,C12:C12m,C14:C14m};
// drawing order (later on top) and legend order per subplot
const panels = [
  {draw:['C05','C02','C03','C01','C04'], legend:[['C01','C02','C03','C04','C05']]},
  {draw:['C10','C09','C13','C08','C07','C06'], legend:[['C06','C07','C08'],['C09','C10','C13']]},
  {draw:['C14','C12','C11'], legend:[['C11','C12','C14']]}
];

// ---------- chart ----------
const FONT = 'Liberation Sans, Arial, Helvetica, sans-serif';
const INK = '#262626';
const DAY = 86400000;
const utc = s => Date.parse(s + 'T00:00:00Z');
const t0 = utc(startDate), tMin = utc(xMin), tMax = utc(xMax);
const tickVals = xTickLabels.map(utc);
const fmtDate = v => new Date(v).toISOString().slice(0, 10);

const chart = echarts.init(document.getElementById('c'), null, {renderer: 'canvas'});

const fgGrids = [
  {left:143, top:12, width:626, height:267},
  {left:143, top:303, width:626, height:273},
  {left:143, top:602, width:626, height:268}
];

const grid = [{left:83, top:105, width:680, height:753, outerBoundsMode:'none'}]
  .concat(fgGrids.map(g => Object.assign({outerBoundsMode:'none'}, g)));

const xAxis = [{gridIndex:0, type:'value', show:false, min:0, max:1}];
const yAxis = [{
  gridIndex:0, type:'value', min:-3, max:3, interval:1, z:3,
  axisLine:{show:false}, axisTick:{show:false}, splitLine:{show:false},
  axisLabel:{fontSize:23, color:'#404040', fontFamily:FONT, margin:8},
  name:'TGD2 Comparison with IGG DSB[ns]', nameLocation:'middle', nameGap:41,
  nameTextStyle:{fontSize:28, color:INK, fontFamily:FONT}
}];
fgGrids.forEach((g, k) => {
  xAxis.push({
    gridIndex:k+1, type:'value', min:tMin, max:tMax, z:3,
    axisLine:{show:true, onZero:false, lineStyle:{color:INK, width:2}},
    axisTick:{show:true, inside:true, length:6, customValues:tickVals, lineStyle:{color:INK, width:2}},
    axisLabel:{show:k===2, customValues:tickVals, formatter:v => fmtDate(v), rotate:25,
      fontSize:22, color:INK, fontFamily:FONT, margin:20},
    splitLine:{show:false}
  });
  yAxis.push({
    gridIndex:k+1, type:'value', min:-6, max:6, interval:2, z:3,
    axisLine:{show:true, onZero:false, lineStyle:{color:INK, width:2}},
    axisTick:{show:true, inside:true, length:6, lineStyle:{color:INK, width:2}},
    axisLabel:{fontSize:22, color:INK, fontFamily:FONT, margin:10},
    splitLine:{show:false},
    name:'Radius Mius Clock Error [m]', nameLocation:'middle', nameGap:44,
    nameTextStyle:{fontSize:21, color:INK, fontFamily:FONT}
  });
});

const series = [];
bgNames.forEach((n, i) => series.push({
  name:'bg-' + n, type:'line', xAxisIndex:0, yAxisIndex:0, data:[],
  color:bgColors[i], showSymbol:false, lineStyle:{width:3}
}));
panels.forEach((p, k) => {
  p.draw.forEach(n => {
    const pts = [];
    fgValues[n].forEach((v, i) => { if (v !== null) pts.push([t0 + i * stepDays * DAY, v]); });
    (fgMidValues[n] || []).forEach((v, i) => { if (v !== null) pts.push([t0 + (i * stepDays + midOffsetDays) * DAY, v]); });
    series.push({
      name:n, type:'scatter', xAxisIndex:k+1, yAxisIndex:k+1, data:pts,
      symbol:'circle', symbolSize:7, itemStyle:{color:fgColors[n], opacity:1},
      emphasis:{disabled:true}
    });
  });
});

function fgLegend(extra, textPad) {
  return Object.assign({
    orient:'horizontal', icon:'circle', itemWidth:6, itemHeight:6, selectedMode:false,
    borderColor:INK, borderWidth:2, backgroundColor:'#fff', borderRadius:0,
    textStyle:{fontSize:21, lineHeight:22, color:'#000', fontFamily:FONT, padding:[0,0,0,textPad]}
  }, extra);
}
const legend = [
  fgLegend({left:146, top:235, padding:[7.5,10,7.5,42], itemGap:40.5, data:panels[0].legend[0]}, 32),
  fgLegend({left:374, top:507, padding:[6,1,33,41], itemGap:44.5, data:panels[1].legend[0]}, 38),
  fgLegend({left:374, top:541, padding:[0,1,0,41], itemGap:44.5, borderWidth:0, backgroundColor:'transparent', z:5, data:panels[1].legend[1]}, 38),
  fgLegend({left:374, top:834, padding:[4,1,4,41], itemGap:44.5, data:panels[2].legend[0]}, 38),
  {orient:'vertical', left:770, top:115.5, padding:0, itemGap:10.3, itemWidth:14, itemHeight:3,
   icon:'rect', selectedMode:false, data:bgNames.map(n => 'bg-' + n), formatter:n => n.replace('bg-', ''),
   textStyle:{fontSize:25, lineHeight:25, color:'#000', fontFamily:FONT, padding:[0,0,0,3]}}
];

function decorations(xm) {
  const els = [
    {type:'text', z:0, left:-161, top:-34, style:{text:titleLine1, font:'52px ' + FONT, fill:'#000'}},
    {type:'text', z:0, left:0, top:48, style:{text:titleLine2, font:'52px ' + FONT, fill:'#000'}},
    {type:'rect', z:1, shape:{x:66, y:22, width:784, height:920}, style:{fill:'#fff'}},
    {type:'polyline', z:5, shape:{points:[[770,103],[848,103],[848,575],[770,575]]}, style:{stroke:INK, lineWidth:2, fill:null}}
  ];
  if (xm != null) els.push({type:'line', z:10, shape:{x1:xm, y1:10, x2:xm, y2:924}, style:{stroke:'#1A7FD6', lineWidth:4, lineDash:[6,5]}});
  return els;
}

chart.setOption({
  animation:false,
  backgroundColor:'#fff',
  grid, xAxis, yAxis, series, legend,
  graphic:decorations(null)
});

// vertical dotted marker line at markerDate, positioned through the x scale
const xm = chart.convertToPixel({xAxisIndex:1}, utc(markerDate));
chart.setOption({graphic:decorations(xm)});
</script></body></html>
